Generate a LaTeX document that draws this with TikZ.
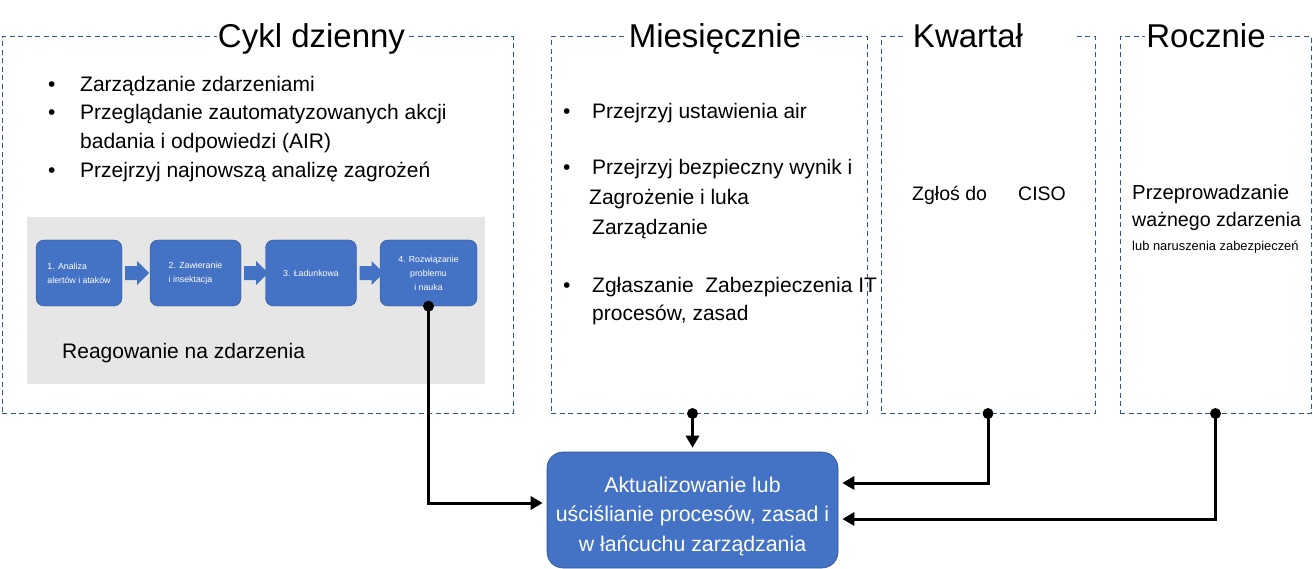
\documentclass[tikz,border=0pt]{standalone}
\usepackage{fontspec}
\setmainfont{Liberation Sans}
\usetikzlibrary{arrows.meta,calc}
\definecolor{dashblue}{RGB}{47,85,151}
\definecolor{boxblue}{RGB}{68,114,196}
\definecolor{boxedge}{RGB}{47,82,143}
\definecolor{panelgray}{RGB}{231,230,230}
\begin{document}
\begin{tikzpicture}[x=1pt,y=-1pt,
  period/.style={draw=dashblue, dash pattern=on 5pt off 3.5pt, line width=1pt, inner sep=0pt, minimum height=376pt},
  title/.style={font=\fontsize{33}{36}\selectfont, fill=white, inner xsep=1pt, inner ysep=0pt, anchor=base},
  bodytext/.style={font=\fontsize{21}{29}\selectfont, anchor=base west, inner sep=0pt},
  stepbox/.style={fill=boxblue, draw=boxedge, line width=0.4pt, rounded corners=8pt, minimum height=66pt, text=white, font=\fontsize{8.8}{14}\selectfont, inner sep=0pt},
  blockarrow/.style={fill=boxblue},
  link/.style={line width=3pt, -{Triangle[length=12pt,width=13pt]}, shorten >=4pt},
  linkdot/.style={fill=black}
]
\useasboundingbox (0,0) rectangle (1313,569);

% period boxes
\node[period, minimum width=511pt] (box1) at (257.5,225) {};
\node[period, minimum width=316pt] (box2) at (709,225) {};
\node[period, minimum width=214pt] (box3) at (988,225) {};
\node[period, minimum width=191pt] (box4) at (1215.5,225) {};

% titles
\node[title] (t1) at (311.5,48) {Cykl dzienny};
\node[title] (t2) at (715,48) {Miesięcznie};
\fill[white] (905,30) rectangle (1077,44);
\node[title] (t3) at (968,48) {Kwartał};
\node[title] (t4) at (1206,48) {Rocznie};

% box 1 bullets
\node[bodytext] (b1a) at (48,92) {•};
\node[bodytext] (b1b) at (48,120) {•};
\node[bodytext] (b1c) at (48,178) {•};
\node[bodytext] (l1a) at (80,92) {Zarządzanie zdarzeniami};
\node[bodytext] (l1b) at (80,120) {Przeglądanie zautomatyzowanych akcji};
\node[bodytext] (l1c) at (80,149) {badania i odpowiedzi (AIR)};
\node[bodytext] (l1d) at (80,178) {Przejrzyj najnowszą analizę zagrożeń};

% incident response panel
\fill[panelgray] (27,217) rectangle (485,384);
\node[stepbox, minimum width=86pt, align=left] (sa) at (79,273) {1. Analiza\\alertów i ataków};
\node[stepbox, minimum width=91pt, align=left] (sb) at (195.5,273) {2. Zawieranie\\i insektacja};
\node[stepbox, minimum width=91pt, align=center] (sc) at (311,273) {3. Ładunkowa};
\node[stepbox, minimum width=97pt, align=center] (sd) at (428.5,273) {4. Rozwiązanie\\problemu\\i nauka};
\foreach \u/\v in {sa/sb, sb/sc, sc/sd}{
  \fill[blockarrow] ($(\u.east)+(3,-7)$) -- ++(12,0) -- ++(0,-5) -- ++(12,12) -- ++(-12,12) -- ++(0,-5) -- ++(-12,0) -- cycle;
}
\node[bodytext] (resp) at (62,358) {Reagowanie na zdarzenia};

% box 2
\node[bodytext] (b2a) at (563,119) {•};
\node[bodytext] (b2b) at (563,175) {•};
\node[bodytext] (b2c) at (563,292) {•};
\node[bodytext] (l2a) at (592,119) {Przejrzyj ustawienia air};
\node[bodytext] (l2b) at (592,175) {Przejrzyj bezpieczny wynik i};
\node[bodytext] (l2c) at (589,205) {Zagrożenie i luka};
\node[bodytext] (l2d) at (592,234) {Zarządzanie};
\node[bodytext] (l2e) at (592,292) {Zgłaszanie\ \ Zabezpieczenia IT};
\node[bodytext] (l2f) at (592,320) {procesów, zasad};

% box 3
\node[bodytext, font=\fontsize{19.5}{24}\selectfont] (l3a) at (912,201) {Zgłoś do};
\node[bodytext, font=\fontsize{19.5}{24}\selectfont] (l3b) at (1018,201) {CISO};

% box 4
\node[bodytext, font=\fontsize{20.3}{24}\selectfont] (l4a) at (1132,200) {Przeprowadzanie};
\node[bodytext, font=\fontsize{19.6}{24}\selectfont] (l4b) at (1132,227) {ważnego zdarzenia};
\node[bodytext, font=\fontsize{12.9}{16}\selectfont] (l4c) at (1132,251) {lub naruszenia zabezpieczeń};

% central box
\node[fill=boxblue, draw=boxedge, line width=0.6pt, rounded corners=16pt, minimum width=291pt, minimum height=116pt, inner sep=0pt] (big) at (692.5,510) {};
\node[text=white, align=center, inner sep=0pt, font=\fontsize{21.3}{29.5}\selectfont] (bigtext) at ([yshift=-6pt]big.center) {Aktualizowanie lub\\uściślianie procesów, zasad i\\w łańcuchu zarządzania};

% connectors
\draw[link] (sd.south) |- ([yshift=7pt]big.west);
\fill[linkdot] (sd.south) circle (5.5);
\draw[link] (big.north |- box2.south) -- (big.north);
\fill[linkdot] (big.north |- box2.south) circle (5.5);
\draw[link] (box3.south) |- ([yshift=27pt]big.east);
\fill[linkdot] (box3.south) circle (5.5);
\draw[link] (box4.south) |- ([yshift=-9pt]big.east);
\fill[linkdot] (box4.south) circle (5.5);
\end{tikzpicture}
\end{document}
